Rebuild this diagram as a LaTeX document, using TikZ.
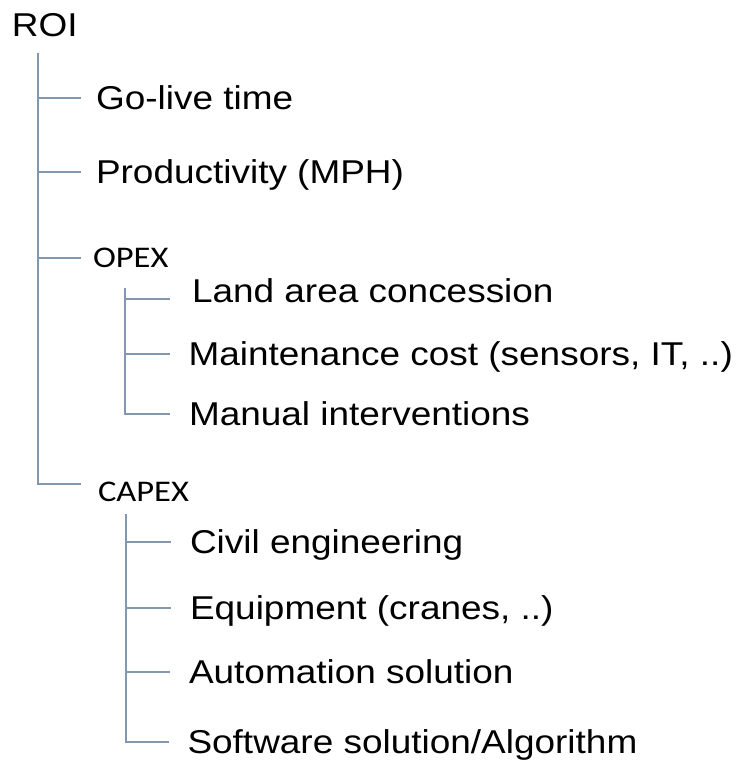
\documentclass[tikz,border=0pt]{standalone}
\usepackage{fontspec}
\newfontfamily\arialx[FakeStretch=1.12]{Liberation Sans}
\newfontfamily\calibrix[FakeStretch=1.15]{Carlito}
\definecolor{treeline}{HTML}{8497B0}

\begin{document}
\begin{tikzpicture}
		[x=0.75pt, y=-0.75pt,
		 item/.style={anchor=west, inner sep=0pt, outer sep=0pt, text height=17.7pt, text depth=0pt,
		              font=\arialx\fontsize{24.75}{30}\selectfont},
		 group/.style={item, text height=14.5pt, font=\calibrix\fontsize{22.5}{27}\selectfont},
		 branch/.style={draw=treeline, line width=1.2pt, shorten >=#1},
		 branch/.default=14.25pt]
		\useasboundingbox (0,0) rectangle (742,760);
		\node[item] (roi) at (12,24.5) {ROI};
		\node[item] (golive) at (96,98) {Go-live time};
		\node[item] (mph) at (96,172) {Productivity (MPH)};
		\node[group] (opex) at (93,258) {OPEX};
		\node[item] (land) at (192,291) {Land area concession};
		\node[item] (maint) at (188.5,354) {Maintenance cost (sensors, IT, ..)};
		\node[item] (manual) at (189,414) {Manual interventions};
		\node[group] (capex) at (98,491.5) {CAPEX};
		\node[item] (civil) at (190,542) {Civil engineering};
		\node[item] (equip) at (190,608) {Equipment (cranes, ..)};
		\node[item] (auto) at (189,672) {Automation solution};
		\node[item] (soft) at (187.5,742) {Software solution/Algorithm};
		\coordinate (roitop) at (38,53);
		\coordinate (opextop) at (125,288);
		\coordinate (capextop) at (126,514);
		\draw[branch=11.25pt] (roitop) |- (golive);
		\draw[branch=11.25pt] (roitop) |- (mph);
		\draw[branch=9pt] (roitop) |- (opex);
		\draw[branch=12.75pt] (roitop) |- ([yshift=5.6pt]capex.west);
		\draw[branch=16.5pt] (opextop) |- ([yshift=-6pt]land.west);
		\draw[branch] (opextop) |- (maint);
		\draw[branch] (opextop) |- (manual);
		\draw[branch] (capextop) |- (civil);
		\draw[branch] (capextop) |- (equip);
		\draw[branch] (capextop) |- (auto);
		\draw[branch] (capextop) |- (soft);
	\end{tikzpicture}
\end{document}
